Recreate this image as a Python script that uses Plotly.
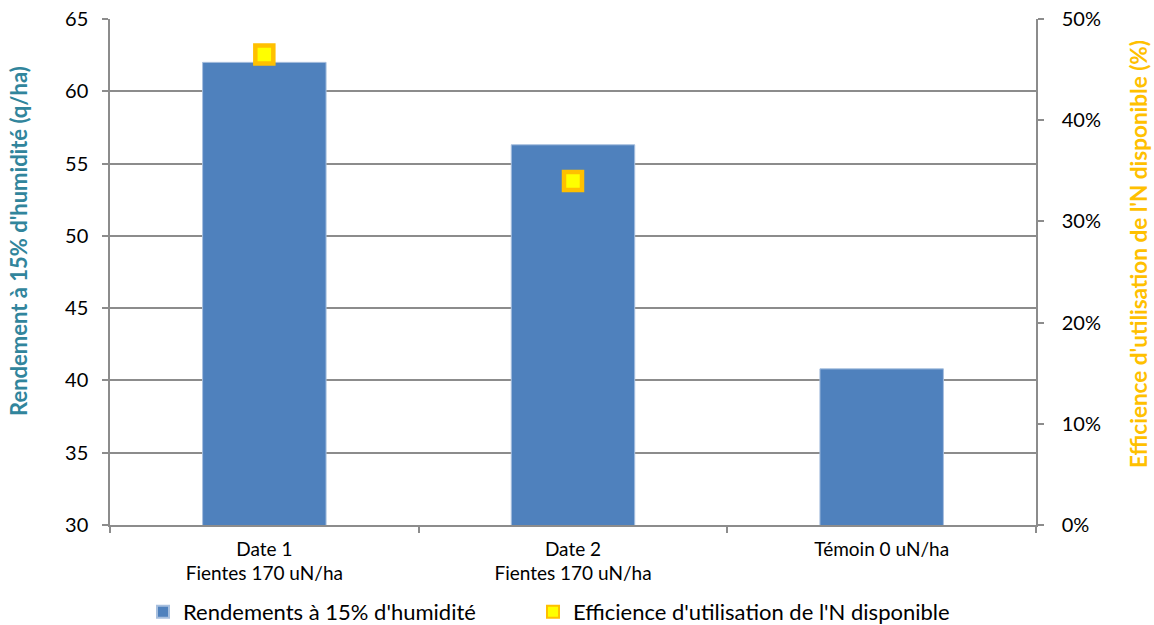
import plotly.graph_objects as go

# Categories (two-line tick labels)
categories = ["Date 1<br>Fientes 170 uN/ha", "Date 2<br>Fientes 170 uN/ha", "Témoin 0 uN/ha"]
# Yield at 15% moisture (q/ha)
rendements = [62.0, 56.3, 40.8]
# Nitrogen use efficiency (fraction); none for the control
efficience = [0.465, 0.340, None]

W, H = 1154, 625
ML, MR, MT, MB = 110, 118, 19, 100
PW, PH = W - ML - MR, H - MT - MB

FONT = "Lato, 'Open Sans', sans-serif"
GRID = "#8C8C8C"

fig = go.Figure()

fig.add_trace(go.Bar(
    x=categories, y=rendements,
    name="Rendements à 15% d'humidité",
    marker=dict(color="#4F81BD", line=dict(color="#A7BFDE", width=1)),
    yaxis="y",
    legend="legend",
))

fig.add_trace(go.Scatter(
    x=categories, y=efficience,
    name="Efficience d'utilisation de l'N disponible",
    mode="markers",
    marker=dict(symbol="square", size=18, color="#FFFF00",
                line=dict(color="#FFC000", width=4.5)),
    yaxis="y2",
    legend="legend2",
))

legend_y = -(612 - (H - MB)) / PH
legend_common = dict(
    orientation="h", xanchor="left", yanchor="middle", y=legend_y,
    font=dict(family=FONT, size=22), itemsizing="constant",
    bgcolor="rgba(0,0,0,0)",
)

fig.update_layout(
    width=W, height=H,
    margin=dict(l=ML, r=MR, t=MT, b=MB, autoexpand=False),
    paper_bgcolor="white", plot_bgcolor="white",
    font=dict(family=FONT, size=19, color="#000000"),
    bargap=0.6,
    showlegend=True,
    legend=dict(x=(143 - ML) / PW, **legend_common),
    legend2=dict(x=(533 - ML) / PW, **legend_common),
    xaxis=dict(
        showline=True, linecolor=GRID, linewidth=1.5,
        ticks="outside", ticklen=6, tickcolor=GRID, tickwidth=1.5,
        tickson="boundaries",
        showgrid=False, zeroline=False, automargin=False,
        tickfont=dict(family=FONT, size=19),
        ticklabelstandoff=6,
    ),
    yaxis=dict(
        range=[30, 65], dtick=5, tick0=30,
        showline=True, linecolor=GRID, linewidth=1.5,
        ticks="outside", ticklen=6, tickcolor=GRID, tickwidth=1.5,
        showgrid=True, gridcolor=GRID, gridwidth=1.5,
        zeroline=False, automargin=False,
        tickfont=dict(family=FONT, size=20),
        ticklabelstandoff=10,
    ),
    yaxis2=dict(
        range=[0, 0.5], dtick=0.1, tick0=0, tickformat=".0%",
        overlaying="y", side="right",
        showline=True, linecolor=GRID, linewidth=1.5,
        ticks="outside", ticklen=6, tickcolor=GRID, tickwidth=1.5,
        showgrid=False, zeroline=False, automargin=False,
        tickfont=dict(family=FONT, size=20),
        ticklabelstandoff=14,
    ),
    annotations=[
        dict(
            text="<b>Rendement à 15% d'humidité (q/ha)</b>",
            textangle=-90, xref="paper", yref="paper",
            x=-(ML - 18) / PW, y=(H - MB - 241) / PH,
            xanchor="center", yanchor="middle", showarrow=False,
            font=dict(family=FONT, size=22, color="#31859C"),
        ),
        dict(
            text="<b>Efficience d'utilisation de l'N disponible (%)</b>",
            textangle=-90, xref="paper", yref="paper",
            x=1 + (1138 - (W - MR)) / PW, y=(H - MB - 254) / PH,
            xanchor="center", yanchor="middle", showarrow=False,
            font=dict(family=FONT, size=22.5, color="#FFC000"),
        ),
    ],
)

fig.write_html("out.html")
